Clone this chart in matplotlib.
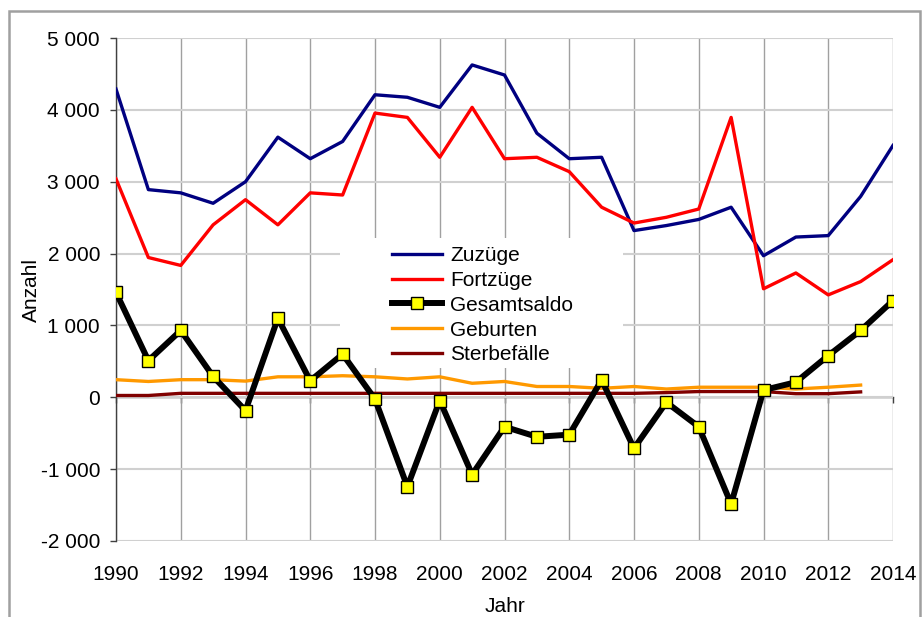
import matplotlib
matplotlib.use("Agg")
import matplotlib.pyplot as plt
from matplotlib.patches import Rectangle
from matplotlib.ticker import FuncFormatter, MultipleLocator

plt.rcParams['font.family'] = ['Liberation Sans', 'DejaVu Sans']

years = list(range(1990, 2015))
zuzuege = [4290, 2890, 2845, 2700, 3000, 3620, 3320, 3560, 4210, 4175, 4035, 4625, 4485,
           3675, 3320, 3340, 2320, 2390, 2475, 2645, 1970, 2230, 2250, 2795, 3505]
fortzuege = [3040, 1945, 1835, 2400, 2750, 2400, 2845, 2815, 3955, 3895, 3340, 4035, 3320,
             3340, 3140, 2645, 2425, 2505, 2620, 3895, 1510, 1730, 1425, 1610, 1915]
gesamtsaldo = [1460, 510, 930, 290, -185, 1100, 230, 600, -25, -1245, -45, -1075, -410,
               -550, -520, 240, -710, -70, -410, -1485, 100, 210, 580, 930, 1345]
years_nat = list(range(1990, 2014))
geburten = [245, 220, 245, 245, 225, 285, 285, 300, 285, 255, 285, 195, 220,
            150, 150, 125, 150, 115, 140, 140, 140, 115, 140, 170]
sterbefaelle = [25, 25, 55, 55, 55, 55, 55, 55, 55, 55, 55, 55, 55,
                55, 55, 55, 55, 65, 80, 80, 80, 50, 50, 75]

labels = ["Zuzüge", "Fortzüge", "Gesamtsaldo", "Geburten", "Sterbefälle"]
xlabel = "Jahr"
ylabel = "Anzahl"

W, H = 923, 617
fig = plt.figure(figsize=(W / 100, H / 100), dpi=100)
ax = fig.add_axes([116 / W, 1 - 541 / H, (893 - 116) / W, (541 - 38) / H])

# figure border
fig.patches.append(Rectangle((9 / W, -0.05), (920 - 9) / W, 1.05 - 11 / H,
                             transform=fig.transFigure, fill=False,
                             edgecolor='#a0a0a0', linewidth=1.8, clip_on=False))

ax.set_xlim(1990, 2014)
ax.set_ylim(-2000, 5000)
ax.xaxis.set_major_locator(MultipleLocator(2))
ax.yaxis.set_major_locator(MultipleLocator(1000))

# grids
for s in ['top', 'right', 'bottom']:
    ax.spines[s].set_visible(False)
ax.spines['left'].set_color('#404040')
ax.spines['left'].set_linewidth(1.0)
ax.grid(axis='y', color='#d0d0d0', linewidth=1.5, zorder=0)
ax.grid(axis='x', color='#a0a0a0', linewidth=1.0, zorder=0)
ax.set_axisbelow(True)

ax.tick_params(axis='y', direction='out', length=4.5, width=1, color='#404040',
               labelsize=15, pad=7)
ax.tick_params(axis='x', length=0, labelsize=15, pad=17)
ax.yaxis.set_major_formatter(FuncFormatter(lambda v, p: f"{v:,.0f}".replace(",", " ")))

# zero axis line with ticks
sec = ax.secondary_xaxis(2 / 7)
sec.xaxis.set_major_locator(MultipleLocator(2))
sec.tick_params(axis='x', direction='out', length=4.5, width=1, color='#404040',
                labelbottom=False, labeltop=False)
sec.spines['bottom'].set_color('#404040')
sec.spines['bottom'].set_linewidth(1.0)
sec.spines['top'].set_visible(False)

# white legend background box
ax.add_patch(Rectangle(((340 - 116) / 777, (541 - 368) / 503), (623 - 340) / 777, (368 - 238) / 503,
                       transform=ax.transAxes, facecolor='white', edgecolor='none', zorder=1))

l1, = ax.plot(years, zuzuege, color='#000080', linewidth=2.4, zorder=3)
l2, = ax.plot(years, fortzuege, color='#ff0000', linewidth=2.4, zorder=3)
l4, = ax.plot(years_nat, geburten, color='#ff9900', linewidth=2.4, zorder=3)
l5, = ax.plot(years_nat, sterbefaelle, color='#800000', linewidth=2.4, zorder=3)
l3, = ax.plot(years, gesamtsaldo, color='black', linewidth=4.3, marker='s', markersize=8,
              markerfacecolor='#ffff00', markeredgecolor='black', markeredgewidth=1, zorder=4)

ax.legend([l1, l2, l3, l4, l5], labels, loc='upper left',
          bbox_to_anchor=((392 - 116) / 777, (541 - 246) / 503),
          frameon=False, fontsize=15, borderpad=0, borderaxespad=0,
          handlelength=2.4, handletextpad=0.4, labelspacing=0.28)

ax.set_xlabel(xlabel, fontsize=15, labelpad=10)
ax.set_ylabel(ylabel, fontsize=15, labelpad=0)

fig.savefig("out.png", dpi=100)
